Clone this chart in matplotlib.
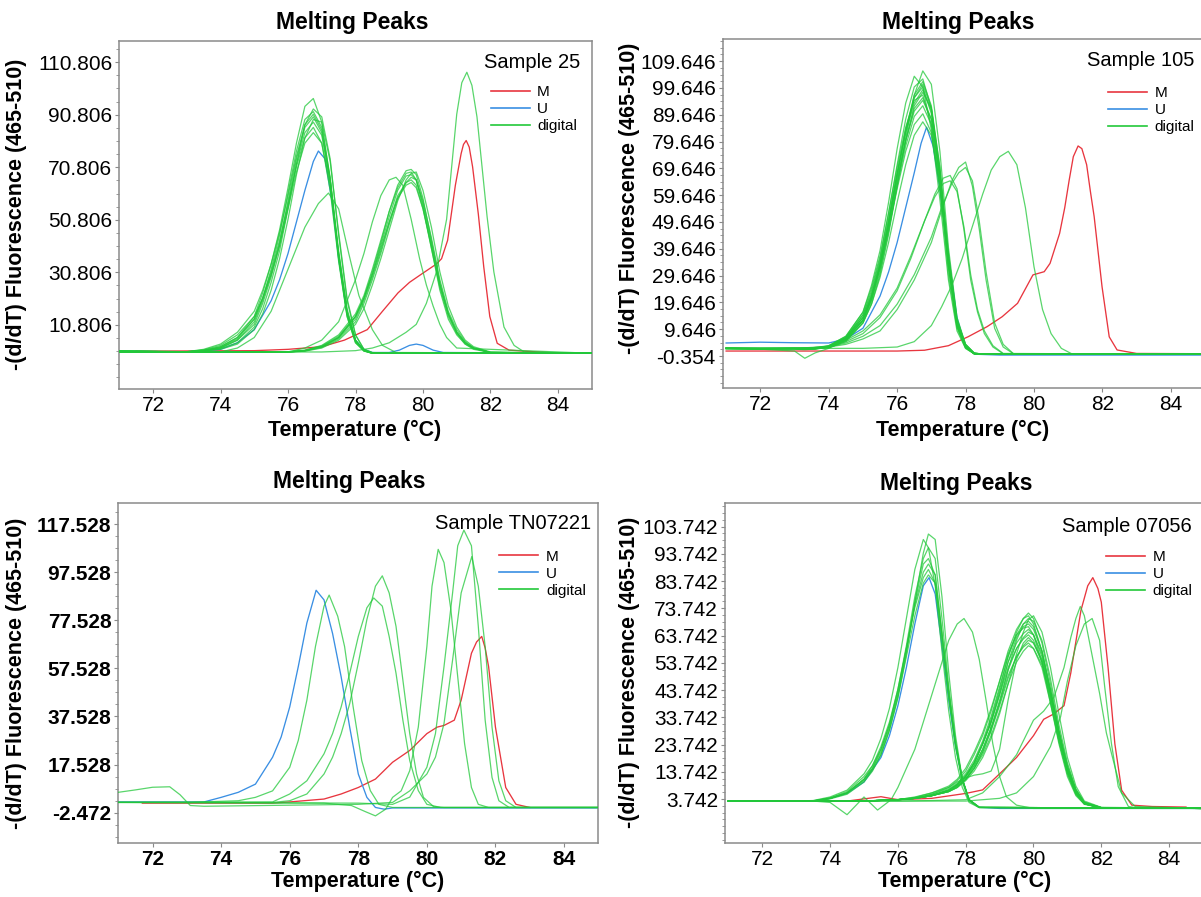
import matplotlib
matplotlib.use("Agg")
import matplotlib.pyplot as plt
from matplotlib.lines import Line2D
from matplotlib.ticker import AutoMinorLocator

plt.rcParams['font.family'] = ['Liberation Sans', 'DejaVu Sans']

# ---------------- data ----------------
x_ticks = [72, 74, 76, 78, 80, 82, 84]
x_tick_labels = ["72", "74", "76", "78", "80", "82", "84"]
legend_labels = ["M", "U", "digital"]

# ---- Sample 25 ----
s25_yticks = [10.806, 30.806, 50.806, 70.806, 90.806, 110.806]
s25_yticklabels = ["10.806", "30.806", "50.806", "70.806", "90.806", "110.806"]
s25_m_t = [71.5, 75.0, 76.0, 77.0, 77.67, 78.35, 78.8, 79.26, 79.6, 79.94, 80.4, 80.55, 80.73, 80.96, 81.13, 81.2, 81.28, 81.37, 81.47, 81.64, 81.8, 81.98, 82.2, 82.55, 83.0, 83.7]
s25_m_y = [0.8, 1.0, 1.5, 2.5, 5.0, 9.0, 16.0, 23.0, 27.0, 30.0, 34.0, 36.0, 43.0, 64.0, 76.0, 79.5, 81.0, 78.5, 71.0, 53.0, 33.0, 14.0, 3.8, 1.2, 0.8, 0.3]
s25_u_t = [71, 73, 74, 74.5, 75, 75.5, 75.75, 76, 76.25, 76.5, 76.75, 76.9, 77.1, 77.3, 77.5, 77.75, 78, 78.25, 78.5, 79, 79.3, 79.6, 79.8, 80.0, 80.3, 80.6, 85]
s25_u_y = [0.8, 0.5, 1.5, 4, 9, 20, 28, 38, 50, 62, 73, 77, 74, 58, 36, 15, 5, 1.5, 0.3, 0.3, 1.2, 3, 3.5, 3, 1.2, 0.3, 0]
s25_dig_a_t = [71, 73, 73.5, 74, 74.5, 75, 75.25, 75.5, 75.75, 76, 76.25, 76.5, 76.75, 77, 77.25, 77.5, 77.75, 78, 78.25, 78.5, 79, 85]
s25_dig_a_y = [
    [0.8, 0.6, 1.2, 2.5, 6, 14, 23, 34, 47, 63, 80, 94, 97, 88, 66, 36, 14, 4, 1, 0, 0, 0],
    [0.8, 0.5, 0.9, 1.8, 4, 10, 17, 27, 39, 55, 72, 87, 93, 90, 74, 45, 20, 7, 1.5, 0.2, 0, 0],
    [0.9, 0.5, 1, 2.2, 5.5, 13, 21, 32, 45, 61, 77, 89, 92, 86, 67, 39, 17, 5, 1, 0.1, 0, 0],
    [0.9, 0.6, 1.5, 3.5, 8, 16, 24, 34, 46, 60, 75, 87, 91, 85, 66, 37, 15, 4.5, 1, 0, 0, 0],
    [0.8, 0.5, 1, 2, 5, 12, 20, 30, 42, 58, 74, 86, 90, 84, 66, 38, 16, 5, 1, 0, 0, 0],
    [0.8, 0.5, 0.8, 1.5, 3.5, 9, 15, 24, 36, 51, 68, 82, 89, 88, 73, 46, 21, 7, 1.5, 0.3, 0, 0],
    [0.8, 0.5, 1, 2, 5, 11, 19, 29, 41, 56, 72, 84, 88, 83, 65, 37, 15, 4.5, 1, 0, 0, 0],
    [0.7, 0.5, 1, 2.5, 6, 13, 21, 31, 43, 57, 71, 82, 86, 80, 62, 35, 14, 4, 0.8, 0, 0, 0],
    [0.8, 0.6, 1.3, 3, 7, 14, 21, 30, 41, 55, 69, 80, 84, 80, 64, 38, 16, 5, 1, 0, 0, 0],
]
s25_dig_b_t = [71, 76, 76.5, 77, 77.5, 78, 78.25, 78.5, 78.75, 79, 79.25, 79.5, 79.65, 79.8, 80, 80.25, 80.5, 80.75, 81, 81.25, 81.5, 82, 85]
s25_dig_b_y = [
    [0.5, 0.5, 1, 2.5, 6, 14, 21, 31, 42, 54, 64, 69.5, 70, 68, 59, 43, 27, 15, 8, 4, 2, 0.3, 0],
    [0.5, 0.6, 1.2, 3, 7, 15, 22, 32, 43, 54, 63, 68.5, 69, 66, 56, 40, 24, 13, 7, 3.5, 1.5, 0.3, 0],
    [0.5, 0.5, 1, 2.5, 6, 14, 21, 30, 41, 52, 62, 67.5, 68, 66, 57, 42, 26, 15, 8, 4, 2, 0.3, 0],
    [0.5, 0.5, 0.9, 2.2, 5.5, 12, 19, 28, 38, 49, 59, 65, 67, 66, 58, 44, 28, 16, 9, 4.5, 2, 0.3, 0],
    [0.5, 0.5, 1, 2.5, 6, 13, 20, 29, 39, 50, 60, 65, 66, 64, 55, 40, 25, 14, 7.5, 3.5, 1.8, 0.3, 0],
    [0.5, 0.5, 1.1, 2.8, 6.5, 14, 21, 30, 40, 50, 59, 64, 65, 63, 55, 41, 26, 15, 8, 4, 2, 0.3, 0],
    [0.5, 0.4, 0.8, 2, 5, 11, 17, 26, 36, 47, 58, 66, 68.5, 69, 62, 48, 31, 18, 10, 5, 2.5, 0.5, 0],
]
s25_dig_c_t = [71, 74, 74.5, 75, 75.5, 76, 76.5, 76.9, 77.2, 77.5, 77.8, 78.1, 78.5, 78.8, 79.2, 85]
s25_dig_c_y = [0.5, 0.5, 2, 6, 16, 32, 48, 57, 61, 55, 38, 22, 9, 3, 0.3, 0]
s25_dig_d_t = [71, 76, 76.5, 77, 77.5, 78, 78.25, 78.5, 78.75, 79, 79.2, 79.4, 79.65, 79.9, 80.1, 80.3, 80.5, 80.7, 81, 85]
s25_dig_d_y = [0.5, 0.5, 2, 5, 12, 28, 38, 50, 60, 66, 67, 64, 51, 36, 26, 18, 11, 6, 2, 0]
s25_dig_e_t = [71, 77, 78, 78.5, 79, 79.5, 79.8, 80.1, 80.4, 80.7, 80.85, 81, 81.15, 81.3, 81.45, 81.6, 81.75, 81.9, 82.1, 82.4, 82.7, 83, 85]
s25_dig_e_y = [0.5, 0.5, 1, 2, 4, 8, 11, 19, 31, 51, 71, 91, 103, 107, 102, 90, 71, 52, 31, 10, 3, 0.5, 0]

# ---- Sample 105 ----
s105_yticks = [-0.354, 9.646, 19.646, 29.646, 39.646, 49.646, 59.646, 69.646, 79.646, 89.646, 99.646, 109.646]
s105_yticklabels = ["-0.354", "9.646", "19.646", "29.646", "39.646", "49.646", "59.646", "69.646", "79.646", "89.646", "99.646", "109.646"]
s105_m_t = [71, 74, 76, 76.8, 77.5, 78.07, 78.63, 79.07, 79.52, 79.97, 80.3, 80.47, 80.75, 80.9, 81.03, 81.15, 81.29, 81.4, 81.54, 81.65, 81.76, 81.99, 82.2, 82.43, 83, 85]
s105_m_y = [1.5, 1.5, 1.5, 1.8, 3.5, 6.8, 10.6, 14.3, 19.3, 29.9, 31.1, 34.2, 45.4, 55, 65.3, 74, 78, 77, 71, 61, 51.6, 25.5, 6.8, 1.9, 0.6, 0.5]
s105_u_t = [71, 72, 73, 74, 74.5, 75, 75.5, 75.75, 76, 76.25, 76.5, 76.7, 76.86, 77.05, 77.25, 77.5, 77.75, 78, 78.3, 79, 85]
s105_u_y = [4.5, 4.8, 4.6, 4.5, 6, 10, 22, 31, 42, 55, 68, 79, 85, 78, 62, 37, 14, 3, 0.3, 0, 0]
s105_dig_a_t = [71, 72, 73, 73.3, 73.6, 74, 74.5, 75, 75.25, 75.5, 75.75, 76, 76.25, 76.5, 76.75, 77, 77.25, 77.5, 77.75, 78, 78.25, 78.5, 85]
s105_dig_a_y = [
    [2.5, 2.3, 2.2, 2, 2.3, 2.8, 5, 12, 19, 30, 45, 63, 81, 97, 106, 101, 76, 40, 14, 4, 0.8, 0.3, 0.3],
    [2.5, 2.4, 2.5, 2.5, 2.8, 3.5, 7, 16, 26, 39, 57, 77, 94, 104, 100, 84, 58, 28, 9, 2.5, 0.5, 0.3, 0.3],
    [2.6, 2.4, 2.4, 2.2, 2.4, 3.2, 6.5, 15, 24, 36, 53, 71, 88, 100, 103, 92, 67, 34, 11, 3, 0.5, 0.3, 0.3],
    [2.4, 2.5, 2.6, 2.5, 2.5, 3, 6, 13, 21, 33, 49, 67, 84, 97, 102, 93, 70, 36, 12, 3.5, 0.6, 0.3, 0.3],
    [2.3, 2.2, 1.5, -1.2, 0.8, 2.5, 5.5, 13, 21, 33, 49, 67, 83, 96, 101, 92, 68, 35, 12, 3, 0.5, 0.3, 0.3],
    [2.5, 2.3, 2.5, 2.3, 2.3, 3, 6, 14, 22, 34, 50, 68, 84, 96, 100, 90, 66, 33, 11, 3, 0.5, 0.3, 0.3],
    [2.5, 2.3, 2.3, 2.2, 2.4, 3.2, 6.5, 15, 23, 35, 51, 68, 83, 94, 99, 91, 68, 35, 12, 3.2, 0.5, 0.3, 0.3],
    [2.6, 2.4, 2.5, 2.4, 2.3, 2.8, 5.5, 12, 20, 31, 46, 64, 80, 93, 98, 92, 70, 38, 13, 4, 0.8, 0.3, 0.3],
    [2.5, 2.5, 2.4, 2.3, 2.5, 3.5, 7, 16, 25, 37, 53, 70, 85, 95, 97, 86, 62, 30, 10, 2.5, 0.5, 0.3, 0.3],
    [2.4, 2.3, 2.5, 2.3, 2.4, 3, 6, 13, 21, 33, 48, 65, 80, 92, 96, 88, 66, 34, 11, 3, 0.5, 0.3, 0.3],
    [2.5, 2.4, 2.3, 2.4, 2.6, 3.3, 6.5, 14, 22, 34, 49, 66, 80, 91, 95, 88, 67, 36, 12, 3.5, 0.6, 0.3, 0.3],
    [2.5, 2.3, 2.4, 2.2, 2.3, 3, 6, 13, 21, 32, 47, 63, 78, 89, 93, 86, 65, 34, 11, 3, 0.5, 0.3, 0.3],
    [2.5, 2.4, 2.5, 2.4, 2.5, 3.2, 6.5, 14, 22, 33, 47, 62, 76, 86, 90, 83, 63, 33, 11, 3, 0.5, 0.3, 0.3],
    [2.4, 2.3, 2.4, 2.3, 2.4, 3, 5.5, 12, 19, 29, 42, 57, 71, 82, 87, 82, 64, 36, 13, 4, 0.8, 0.3, 0.3],
]
s105_dig_b_t = [71, 73, 74, 74.5, 75, 75.5, 76, 76.4, 76.8, 77.1, 77.35, 77.55, 77.75, 77.95, 78.15, 78.35, 78.55, 78.8, 79.1, 85]
s105_dig_b_y = [
    [2.5, 2.5, 3, 5, 8, 14, 24, 36, 50, 60, 66, 67, 62, 47, 28, 16, 8, 3, 0.5, 0.3],
    [2.5, 2.5, 3.2, 5.5, 9, 15, 25, 37, 50, 59, 64, 65, 61, 48, 30, 17, 9, 3.5, 0.6, 0.3],
]
s105_dig_c_t = [71, 73, 74, 74.5, 75, 75.5, 76, 76.5, 77, 77.3, 77.6, 77.8, 78, 78.2, 78.4, 78.6, 78.85, 79.1, 79.4, 85]
s105_dig_c_y = [
    [2.5, 2.5, 3, 4, 6, 9, 17, 28, 42, 54, 65, 70, 72, 63, 47, 28, 10, 3, 0.5, 0.3],
    [2.5, 2.5, 3, 4.5, 7, 11, 19, 30, 44, 55, 64, 68, 70, 65, 50, 31, 12, 4, 0.5, 0.3],
]
s105_dig_d_t = [71, 73, 74, 75, 76, 76.5, 77, 77.3, 77.6, 77.9, 78.2, 78.5, 78.75, 79, 79.25, 79.5, 79.75, 80, 80.25, 80.5, 80.8, 81.1, 85]
s105_dig_d_y = [2.5, 2.5, 2.5, 2.5, 3, 5, 11, 18, 26, 36, 48, 60, 69, 74, 76, 71, 55, 33, 17, 8, 2.5, 0.5, 0.3]

# ---- Sample TN07221 ----
tn_yticks = [-2.472, 17.528, 37.528, 57.528, 77.528, 97.528, 117.528]
tn_yticklabels = ["-2.472", "17.528", "37.528", "57.528", "77.528", "97.528", "117.528"]
tn_m_t = [71.7, 75.5, 76, 77, 77.5, 78, 78.5, 79, 79.5, 80, 80.3, 80.5, 80.8, 81, 81.3, 81.45, 81.6, 81.7, 81.8, 82, 82.3, 82.6, 83]
tn_m_y = [1.5, 1.5, 2, 3.2, 5.3, 8, 11.5, 18.5, 23.4, 30.4, 33.1, 33.8, 36, 44.3, 63.8, 68.5, 70.8, 66, 58.3, 33.1, 8, 1, -0.3]
tn_u_t = [71, 73.5, 74, 74.5, 75, 75.5, 75.75, 76, 76.25, 76.5, 76.77, 77, 77.25, 77.5, 77.75, 78, 78.25, 78.5, 78.75, 79, 85]
tn_u_y = [2, 2, 3.9, 6, 9.4, 20.6, 29, 41.5, 58.3, 76.4, 90, 86, 72, 54, 33, 13.6, 3.9, -0.3, -1, -0.5, -0.5]
tn_dig_a_t = [71, 73, 74.5, 75, 75.5, 76, 76.25, 76.5, 76.75, 77, 77.15, 77.4, 77.6, 77.85, 78.1, 78.35, 78.6, 79, 85]
tn_dig_a_y = [1.8, 1.8, 2.5, 3.9, 6.6, 16.4, 27.6, 44.3, 66.6, 83.4, 88, 79.2, 66.6, 41.5, 19.2, 6.7, 1, -0.3, -0.3]
tn_dig_b_t = [71, 75.5, 76, 76.5, 77, 77.25, 77.5, 77.75, 78, 78.25, 78.45, 78.7, 78.9, 79.1, 79.3, 79.5, 79.75, 80, 80.4, 85]
tn_dig_b_y = [1.8, 2, 5.3, 10.8, 22, 30.4, 41.5, 55.5, 70.8, 82.7, 86.8, 83.4, 70.8, 55.5, 36, 19.2, 6.7, 1, -0.3, -0.3]
tn_dig_c_t = [71, 75.5, 76, 76.5, 77, 77.25, 77.5, 77.75, 78, 78.25, 78.5, 78.7, 78.9, 79.1, 79.3, 79.5, 79.7, 79.9, 80.2, 80.5, 85]
tn_dig_c_y = [1.8, 1.8, 2.5, 5.3, 13.6, 20.6, 30.4, 42.9, 59.7, 77.8, 91.7, 96, 88.9, 75, 52.7, 30.4, 13.6, 3.9, 0, -0.3, -0.3]
tn_dig_d_t = [71, 77, 77.8, 78.2, 78.5, 78.8, 79, 79.25, 79.5, 79.75, 80, 80.15, 80.33, 80.5, 80.7, 80.9, 81.1, 81.3, 81.5, 81.8, 85]
tn_dig_d_y = [1.8, 1.5, 0.5, -2, -3.8, -1, 3.9, 6.6, 15, 33.1, 66.6, 91.7, 107, 101.5, 82, 54, 26.2, 8, 1, -0.3, -0.3]
tn_dig_e_t = [71, 78, 79, 79.5, 80, 80.25, 80.5, 80.75, 80.9, 81.08, 81.3, 81.5, 81.7, 81.9, 82.1, 82.4, 85]
tn_dig_e_y = [1.8, 1.5, 1, 4, 16.4, 30.4, 58.3, 88.9, 108.5, 115, 108.5, 75, 36, 12.2, 2.5, -0.3, -0.3]
tn_dig_f_t = [71, 71.5, 72, 72.5, 72.8, 73.1, 73.5, 78, 79, 79.5, 80, 80.25, 80.5, 80.75, 81, 81.31, 81.5, 81.7, 81.9, 82.1, 82.3, 82.6, 85]
tn_dig_f_y = [6, 7, 8.1, 8.3, 5, 0.5, 0.2, 1, 1.8, 6.6, 13.6, 20.6, 34.6, 61, 88.9, 104, 91.7, 66.6, 33.1, 10.8, 2.5, -0.3, -0.3]

# ---- Sample 07056 ----
s07_yticks = [3.742, 13.742, 23.742, 33.742, 43.742, 53.742, 63.742, 73.742, 83.742, 93.742, 103.742]
s07_yticklabels = ["3.742", "13.742", "23.742", "33.742", "43.742", "53.742", "63.742", "73.742", "83.742", "93.742", "103.742"]
s07_m_t = [71, 74.5, 75, 75.5, 76, 77, 78, 78.5, 79, 79.5, 80, 80.3, 80.6, 80.9, 81.1, 81.4, 81.6, 81.75, 81.9, 82, 82.2, 82.4, 82.6, 82.9, 83.5, 84.5]
s07_m_y = [3, 3, 3.8, 4.6, 3.5, 4, 5.8, 7.1, 13, 19, 27, 33, 35, 38, 50, 73, 82, 85, 81, 76, 52, 24, 7, 1.5, 1, 0.8]
s07_u_t = [71, 73.5, 74, 74.5, 75, 75.5, 75.75, 76, 76.25, 76.5, 76.75, 76.92, 77.1, 77.3, 77.5, 77.7, 77.9, 78.1, 78.4, 79, 85]
s07_u_y = [3, 3, 4, 5.8, 10, 19, 27, 38, 52, 68, 82, 85, 79, 60, 40, 23, 11, 3.4, 0.7, 0.3, 0.3]
s07_dig_a_t = [71, 73, 73.5, 74, 74.5, 75, 75.25, 75.5, 75.75, 76, 76.25, 76.5, 76.75, 76.9, 77.1, 77.3, 77.5, 77.7, 77.9, 78.1, 78.4, 85]
s07_dig_a_y = [
    [3, 3, 3, 3.8, 5.5, 10, 14, 20, 29, 41, 57, 76, 94, 101, 99, 78, 50, 27, 11, 3.5, 0.7, 0.3],
    [3, 3, 3.2, 4.5, 7, 13, 18, 26, 37, 52, 70, 88, 99, 96, 82, 58, 36, 19, 8, 2.5, 0.6, 0.3],
    [3, 3, 3, 4, 6, 11, 15, 22, 31, 44, 60, 78, 92, 96, 92, 70, 45, 25, 11, 3.5, 0.7, 0.3],
    [3, 3, 3, 4, 6, 11, 16, 22, 31, 43, 59, 75, 87, 90, 86, 65, 43, 24, 11, 3.5, 0.7, 0.3],
    [3, 3, 3.1, 4.2, 6.5, 12, 16, 23, 32, 44, 59, 74, 85, 88, 83, 62, 41, 23, 10, 3, 0.6, 0.3],
    [3, 3, 3, 4, 6, 10.5, 14.5, 20, 29, 41, 56, 71, 83, 86, 83, 64, 43, 24, 11, 3.5, 0.7, 0.3],
    [3, 3, 3, 4, 6, 11, 15, 21, 30, 42, 58, 76, 90, 92, 86, 64, 42, 24, 11, 3.5, 0.7, 0.3],
]
s07_dig_b_t = [71, 74, 75, 76, 76.5, 77, 77.5, 77.75, 78, 78.25, 78.5, 78.75, 79, 79.25, 79.5, 79.7, 79.85, 80, 80.25, 80.5, 80.75, 81, 81.25, 81.5, 82, 85]
s07_dig_b_y = [
    [3, 3, 3, 3.5, 4, 5, 7, 9, 12, 17, 24, 33, 44, 56, 65, 70, 72, 70, 61, 46, 29, 15, 6.5, 2.2, 0.5, 0.3],
    [3, 3, 3, 3.5, 4, 5.5, 8, 10.5, 14, 20, 27, 36, 47, 58, 66, 70, 71, 68, 58, 43, 27, 14, 6, 2, 0.5, 0.3],
    [3, 3, 3, 3.5, 4, 5, 6.5, 8, 11, 15, 21, 29, 39, 51, 62, 68, 70, 69, 62, 48, 31, 17, 7.5, 2.5, 0.6, 0.3],
    [3, 3, 3, 3.5, 4.2, 5.5, 7.5, 9.5, 13, 18, 25, 34, 45, 56, 64, 68, 69, 67, 58, 43, 27, 14, 6, 2, 0.5, 0.3],
    [3, 3, 3, 3.5, 4, 5, 7, 9, 12, 17, 24, 32, 43, 54, 63, 67, 68, 66, 58, 44, 28, 15, 6.5, 2.2, 0.5, 0.3],
    [3, 3, 3, 3.6, 4.3, 6, 8.5, 11, 15, 21, 28, 37, 47, 57, 64, 66.5, 67, 64, 54, 39, 24, 12, 5, 1.8, 0.5, 0.3],
    [3, 3, 3, 3.5, 4, 5, 7, 9, 12, 17, 24, 32, 42, 54, 61, 64.5, 66, 64, 56, 42, 27, 14, 6, 2, 0.5, 0.3],
    [3, 3, 3, 3.5, 4, 5, 6.5, 8.5, 11, 16, 22, 30, 40, 51, 59, 63, 65, 64, 57, 44, 29, 16, 7, 2.5, 0.6, 0.3],
    [3, 3, 3, 3.5, 4, 5, 7, 9, 12.5, 17, 24, 32, 42, 52, 59, 62.5, 64, 62, 54, 40, 25, 13, 5.5, 2, 0.5, 0.3],
    [3, 3, 3, 3.5, 4.5, 6, 8, 10, 11.5, 12.5, 13, 14, 22, 40, 55, 61, 63, 61, 54, 41, 26, 14, 6, 2, 0.5, 0.3],
    [3, 3, 3, 3.5, 4, 5, 6.5, 8.5, 11, 15, 21, 29, 38, 48, 56, 60, 62, 61, 55, 43, 28, 15, 7, 2.5, 0.6, 0.3],
    [3, 3, 3, 3.5, 4, 5, 7, 9, 12, 16, 22, 30, 39, 49, 56, 59.5, 61, 59, 52, 39, 25, 13, 5.5, 2, 0.5, 0.3],
    [3, 3, 3, 3.5, 4, 5, 6.5, 8, 11, 15, 20, 27, 36, 46, 54, 58, 60, 59, 53, 42, 28, 16, 7, 2.5, 0.6, 0.3],
    [3, 3, 3, 3.5, 4, 5, 6.5, 8, 10.5, 14, 19, 26, 35, 46, 57, 65, 69.5, 71, 65, 52, 35, 19, 8.5, 3, 0.7, 0.3],
]
s07_dig_c_t = [71, 73.5, 74, 74.5, 75, 75.4, 75.8, 76, 76.5, 77, 77.25, 77.5, 77.75, 77.95, 78.2, 78.4, 78.6, 78.8, 79, 79.2, 79.5, 80, 85]
s07_dig_c_y = [3, 3, 2.5, -2, 4.5, -0.3, 3.5, 8, 22, 42, 52, 62, 68, 70, 65, 55, 40, 24, 12, 4.6, 1.5, 0.3, 0.3]
s07_dig_d_t = [71, 76, 77, 78, 78.5, 79, 79.5, 80, 80.3, 80.6, 80.9, 81.1, 81.25, 81.38, 81.5, 81.6, 81.8, 81.95, 82.15, 82.3, 82.6, 83, 85]
s07_dig_d_y = [3, 3, 3.2, 3.5, 6, 12, 20, 32.7, 36, 41, 52, 63, 70, 74.4, 71, 64.6, 52, 42.5, 28, 20.5, 6, 1, 0.3]
s07_dig_e_t = [71, 76, 78, 79, 79.5, 80, 80.5, 80.8, 81, 81.25, 81.5, 81.73, 81.95, 82.1, 82.3, 82.5, 82.8, 83.2, 85]
s07_dig_e_y = [3, 3, 3, 4, 6, 12, 23, 34, 47, 60, 68, 70, 62, 45, 24, 8.3, 1, 0.3, 0.3]

# ---------------- style / layout ----------------
W, H = 1201, 897
C_M = '#e8363f'
C_U = '#3a8fe3'
C_D = '#22c83a'
SPINE = '#8a8a8a'

fig = plt.figure(figsize=(W / 100, H / 100), dpi=100)


def fx(px):
    return px / W


def fy(py):
    return 1 - py / H


def make_axes(left, right, top, bottom):
    return fig.add_axes([fx(left), fy(bottom), (right - left) / W, (bottom - top) / H])


def draw_panel(ax, m_t, m_y, u_t, u_y, digital, yticks, ylabels, ylim, xlim,
               sample, bold, title_xy, sample_xy, legend_xy, xlabel_xy, ylabel_xy):
    ax.plot(m_t, m_y, color=C_M, lw=0.95, zorder=2)
    ax.plot(u_t, u_y, color=C_U, lw=0.95, zorder=2)
    for t, ys in digital:
        for y in ys:
            ax.plot(t, y, color=C_D, lw=0.9, alpha=0.75, zorder=3)
    ax.set_xlim(*xlim)
    ax.set_ylim(*ylim)
    ax.set_xticks(x_ticks)
    ax.set_xticklabels(x_tick_labels)
    ax.set_yticks(yticks)
    ax.set_yticklabels(ylabels)
    ax.yaxis.set_minor_locator(AutoMinorLocator(4))
    w = 'bold' if bold else 'normal'
    ax.tick_params(axis='both', which='major', labelsize=15, length=3, width=0.8,
                   color=SPINE, direction='out', pad=2)
    ax.tick_params(axis='y', which='minor', length=2, width=0.6, color=SPINE)
    for lab in ax.get_xticklabels() + ax.get_yticklabels():
        lab.set_fontweight(w)
    for s in ax.spines.values():
        s.set_color(SPINE)
        s.set_linewidth(1.1)
    ax.set_xlabel('Temperature (°C)', fontsize=15.5, fontweight='bold')
    ax.set_ylabel('-(d/dT) Fluorescence (465-510)', fontsize=15.5, fontweight='bold')
    inv = ax.transAxes.inverted()
    xa, ya = inv.transform((xlabel_xy[0], H - xlabel_xy[1]))
    ax.xaxis.set_label_coords(xa, ya)
    ax.xaxis.label.set_va('center')
    xa, ya = inv.transform((ylabel_xy[0], H - ylabel_xy[1]))
    ax.yaxis.set_label_coords(xa, ya)
    ax.yaxis.label.set_va('center')
    fig.text(fx(title_xy[0]), fy(title_xy[1]), 'Melting Peaks', fontsize=16.5,
             fontweight='bold', ha='center', va='center')
    fig.text(fx(sample_xy[0]), fy(sample_xy[1]), sample, fontsize=14.5,
             ha='right', va='center')
    handles = [Line2D([], [], color=c, lw=1.2) for c in (C_M, C_U, C_D)]
    ax.legend(handles, legend_labels, loc='upper left',
              bbox_to_anchor=(fx(legend_xy[0]), fy(legend_xy[1])),
              bbox_transform=fig.transFigure, frameon=False, fontsize=11,
              handlelength=2.55, handletextpad=0.5, labelspacing=0.2,
              borderpad=0, borderaxespad=0)


ax1 = make_axes(119.3, 591.7, 40.7, 389.0)
ax2 = make_axes(722.7, 1205.0, 39.0, 388.3)
ax3 = make_axes(118.3, 598.3, 502.7, 843.3)
ax4 = make_axes(725.0, 1203.0, 502.7, 843.3)
fig.canvas.draw()

draw_panel(ax1, s25_m_t, s25_m_y, s25_u_t, s25_u_y,
           [(s25_dig_a_t, s25_dig_a_y), (s25_dig_b_t, s25_dig_b_y),
            (s25_dig_c_t, [s25_dig_c_y]), (s25_dig_d_t, [s25_dig_d_y]),
            (s25_dig_e_t, [s25_dig_e_y])],
           s25_yticks, s25_yticklabels, (-13.6, 119.0), (71.0, 85.0),
           'Sample 25', False, (352, 22.5), (580, 62.3), (490.6, 85),
           (355, 430), (17, 214))

draw_panel(ax2, s105_m_t, s105_m_y, s105_u_t, s105_u_y,
           [(s105_dig_a_t, s105_dig_a_y), (s105_dig_b_t, s105_dig_b_y),
            (s105_dig_c_t, s105_dig_c_y), (s105_dig_d_t, [s105_dig_d_y])],
           s105_yticks, s105_yticklabels, (-12.4, 117.9), (70.9, 85.0),
           'Sample 105', False, (958, 22), (1194, 61), (1108, 86),
           (963, 430), (629, 198))

draw_panel(ax3, tn_m_t, tn_m_y, tn_u_t, tn_u_y,
           [(tn_dig_a_t, [tn_dig_a_y]), (tn_dig_b_t, [tn_dig_b_y]),
            (tn_dig_c_t, [tn_dig_c_y]), (tn_dig_d_t, [tn_dig_d_y]),
            (tn_dig_e_t, [tn_dig_e_y]), (tn_dig_f_t, [tn_dig_f_y])],
           tn_yticks, tn_yticklabels, (-15.2, 126.4), (71.0, 85.0),
           'Sample TN07221', True, (349, 481.7), (591, 523.3), (499.4, 549.5),
           (358, 881.7), (17, 673))

draw_panel(ax4, s07_m_t, s07_m_y, s07_u_t, s07_u_y,
           [(s07_dig_a_t, s07_dig_a_y), (s07_dig_b_t, s07_dig_b_y),
            (s07_dig_c_t, [s07_dig_c_y]), (s07_dig_d_t, [s07_dig_d_y]),
            (s07_dig_e_t, [s07_dig_e_y])],
           s07_yticks, s07_yticklabels, (-12.5, 112.5), (70.9, 85.0),
           'Sample 07056', False, (956, 483.3), (1192, 526.7), (1106, 550),
           (965, 881.7), (629, 672))

fig.savefig('out.png', dpi=100)
